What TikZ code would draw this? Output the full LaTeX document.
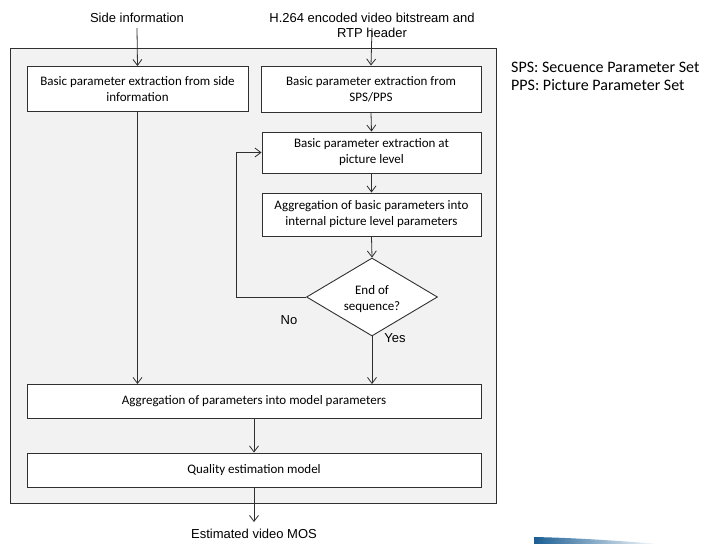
\documentclass[tikz,border=0pt]{standalone}
\usepackage{fontspec}
\setmainfont{Carlito}
\newfontfamily\arialfont{Liberation Sans}
\usetikzlibrary{arrows.meta,shapes.geometric}
\definecolor{linegray}{HTML}{303030}
\definecolor{panelgray}{HTML}{F2F2F2}
\definecolor{swooshblue}{HTML}{1B5E94}
\begin{document}
\begin{tikzpicture}[x=1pt,y=-1pt,
  font=\fontsize{13}{16}\selectfont,
  flow/.style={draw=linegray,line width=0.8pt,-{Straight Barb[length=6pt,width=9pt]}},
  procbox/.style={draw=linegray,line width=0.9pt,fill=white,align=center,inner sep=0pt},
  decide/.style={draw=linegray,line width=0.9pt,fill=white,diamond,aspect=1.68,align=center,inner sep=0pt,minimum width=131pt,minimum height=78pt},
  outertext/.style={font=\arialfont\fontsize{13}{15.5}\selectfont,align=center,inner sep=0pt},
  notetext/.style={font=\fontsize{16}{18}\selectfont,align=left,anchor=north west,inner sep=0pt}]
\useasboundingbox (0,0) rectangle (705,544);

% grey panel holding the whole process
\node[draw=linegray,line width=1pt,fill=panelgray,minimum width=486pt,minimum height=455pt,inner sep=0pt] (panel) at (253,275.5) {};

% inputs
\node[outertext] (side) at (137,18) {Side information};
\node[outertext] (h264) at (372,25.5) {H.264 encoded video bitstream and\\RTP header};
\coordinate (sidein) at (137,28);
\coordinate (h264in) at (372,28);

% process boxes
\node[procbox,minimum width=221pt,minimum height=45pt] (bpside) at (137.5,89) {Basic parameter extraction from side\\information};
\node[procbox,minimum width=220pt,minimum height=46pt] (bpsps) at (371,89) {Basic parameter extraction from\\SPS/PPS};
\node[procbox,minimum width=219pt,minimum height=41pt] (bppic) at (371.5,152.5) {Basic parameter extraction at\\picture level};
\node[procbox,minimum width=219pt,minimum height=43pt] (aggpic) at (371.5,214.5) {Aggregation of basic parameters into\\internal picture level parameters};
\node[decide,label={[align=center,yshift=-2pt]center:End of\\sequence?}] (endseq) at (372,297) {};
\node[procbox,minimum width=454pt,minimum height=34pt] (aggmodel) at (254,401.5) {Aggregation of parameters into model parameters};
\node[procbox,minimum width=454pt,minimum height=34pt] (quality) at (254,470) {Quality estimation model};

% output
\node[outertext] (mos) at (254,534) {Estimated video MOS};
\coordinate (mosin) at (254,522);

% abbreviations
\node[notetext] (abbr) at (511,62) {SPS: Secuence Parameter Set\\PPS: Picture Parameter Set};

% connectors
\draw[flow] (sidein) -- (bpside.north);
\draw[flow] (h264in) -- (bpsps.north);
\draw[flow] (bpsps.south) -- (bppic.north);
\draw[flow] (bppic.south) -- (aggpic.north);
\draw[flow] (aggpic.south) -- (endseq.north);
\draw[flow] (endseq.west) -- (236,297) |- (bppic.west);
\draw[flow] (endseq.south) -- (aggmodel.north -| endseq.south);
\draw[flow] (bpside.south) -- (aggmodel.north -| bpside.south);
\draw[flow] (aggmodel.south) -- (quality.north);
\draw[flow] (quality.south) -- (mosin);

% branch labels
\node[outertext] (nolbl) at (289,320) {No};
\node[outertext] (yeslbl) at (395,338) {Yes};

% blue swoosh at the lower edge
\shade[left color=swooshblue,right color=white] (534,537) .. controls (580,538) and (620,541) .. (660,544) -- (534,544) -- cycle;
\end{tikzpicture}
\end{document}
